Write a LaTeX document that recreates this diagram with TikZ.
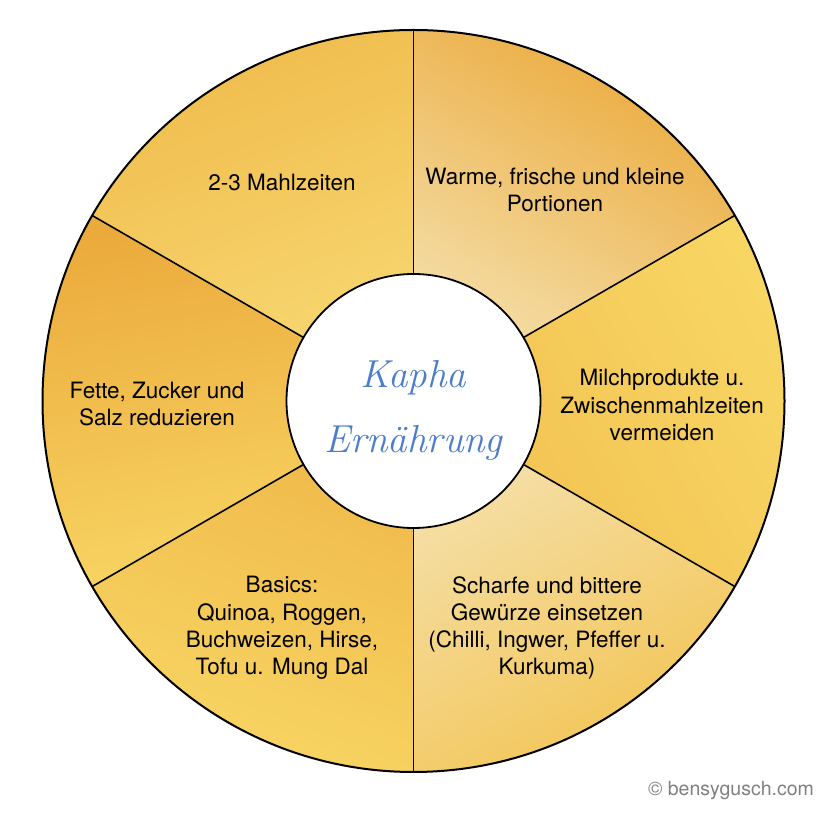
\documentclass[tikz,border=0pt]{standalone}
\usepackage{fontspec}
\newfontfamily\helv{TeX Gyre Heros}
\definecolor{ochre}{HTML}{EBAA3C}
\definecolor{sand}{HTML}{F8D664}
\definecolor{pale}{HTML}{F5E2B0}
\definecolor{inkblue}{HTML}{4A7ECC}

\begin{document}
\begin{tikzpicture}[x=1pt,y=1pt,
    lbl/.style={font=\helv\fontsize{22.5}{27.3}\selectfont,align=center},
    divider/.style={line width=1.6pt}]
\useasboundingbox (0,0) rectangle (827,816);
\begin{scope}[shift={(413.5,415)}]
  % watercolour sectors
  \shade[top color=ochre!60!sand, bottom color=sand!80!pale, shading angle=20] (0,0) -- (90:371) arc[start angle=90,end angle=150,radius=371] -- cycle;
  \shade[top color=ochre, bottom color=pale, shading angle=-30] (0,0) -- (30:371) arc[start angle=30,end angle=90,radius=371] -- cycle;
  \shade[top color=sand, bottom color=ochre!50!sand, shading angle=-60] (0,0) -- (-30:371) arc[start angle=-30,end angle=30,radius=371] -- cycle;
  \shade[top color=pale, bottom color=ochre!40!sand, shading angle=30] (0,0) -- (-90:371) arc[start angle=-90,end angle=-30,radius=371] -- cycle;
  \shade[top color=ochre!70!sand, bottom color=sand, shading angle=-20] (0,0) -- (210:371) arc[start angle=210,end angle=270,radius=371] -- cycle;
  \shade[top color=ochre, bottom color=sand, shading angle=10] (0,0) -- (150:371) arc[start angle=150,end angle=210,radius=371] -- cycle;
  \draw[line width=2pt] (0,0) circle[radius=371];
  % centre
  \node[circle,draw,line width=1.8pt,fill=white,minimum size=254pt,inner sep=0pt] (kapha) at (0,0) {};
  \node[font=\itshape\fontsize{39}{65}\selectfont,text=inkblue,align=center] (kaphatxt) at ([yshift=-9pt]kapha.center) {Kapha\\Ernährung};
  \foreach \a in {90,30,-30,-90,-150,150} {
    \coordinate (rim\a) at (\a:371);
    \draw[divider] (kapha.\a) -- (rim\a);
  }
  \node[lbl] (mahl) at (-131.5,218.5) {2-3 Mahlzeiten};
  \node[lbl] (warme) at (141.5,211) {Warme, frische und kleine\\Portionen};
  \node[lbl] (milch) at (248.5,-4) {Milchprodukte u.\\Zwischenmahlzeiten\\vermeiden};
  \node[lbl] (scharf) at (133.5,-227) {Scharfe und bittere\\Gewürze einsetzen\\(Chilli, Ingwer, Pfeffer u.\\Kurkuma)};
  \node[lbl] (basics) at (-131.5,-227) {Basics:\\Quinoa, Roggen,\\Buchweizen, Hirse,\\Tofu u. Mung Dal};
  \node[lbl] (fette) at (-256.5,-3) {Fette, Zucker und\\Salz reduzieren};
\end{scope}
\node[font=\helv\fontsize{19.5}{23}\selectfont,text=gray] (copy) at (731,25) {© bensygusch.com};
\end{tikzpicture}
\end{document}
